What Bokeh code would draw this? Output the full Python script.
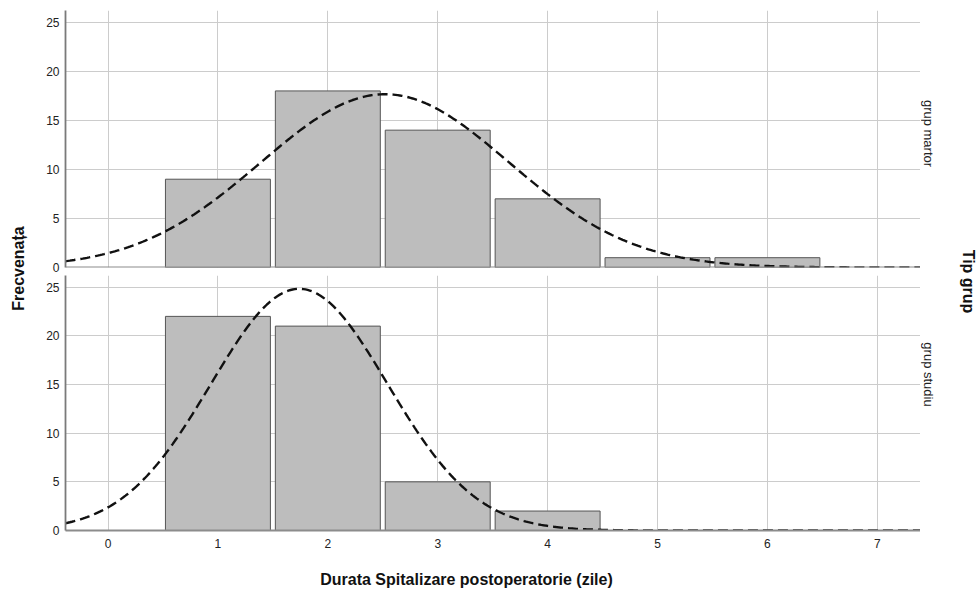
import numpy as np
from bokeh.plotting import figure
from bokeh.layouts import row, column
from bokeh.models import Range1d, FixedTicker, Label, Span
from bokeh.embed import file_html
from bokeh.resources import INLINE

# ---- data ----
martor_days = [1, 2, 3, 4, 5, 6]
martor_counts = [9, 18, 14, 7, 1, 1]
studiu_days = [1, 2, 3, 4]
studiu_counts = [22, 21, 5, 2]
x_ticks = [0, 1, 2, 3, 4, 5, 6, 7]
y_ticks = [0, 5, 10, 15, 20, 25]
group_labels = ["grup martor", "grup studiu"]
x_title = "Durata Spitalizare postoperatorie (zile)"
y_title = "Frecvenața"
facet_title = "Tip grup"

FONT = "Liberation Sans"
X_RANGE = (-0.387, 7.393)
Y_MAX = 26.2
BAR_W = 0.955
MAIN_W = 890
STRIP_W = 20
LEFT_W = 30
RIGHT_W = 36
TOTAL_H = 590


def normal_curve(vals, counts, xs):
    v = np.repeat(np.asarray(vals, dtype=float), counts)
    n = len(v)
    m = v.mean()
    s = v.std(ddof=1)
    return n * np.exp(-0.5 * ((xs - m) / s) ** 2) / (s * np.sqrt(2 * np.pi))


def blank(width, height):
    f = figure(width=width, height=height, output_backend="svg", toolbar_location=None,
               x_range=Range1d(0, 1), y_range=Range1d(0, 1),
               x_axis_location=None, y_axis_location=None, min_border=0)
    f.grid.visible = False
    f.outline_line_color = None
    return f


def text_label(x, y, text, size, bold=False, angle=0.0, color="#111111"):
    return Label(x=x, y=y, x_units="screen", y_units="screen", text=text,
                 angle=angle, text_align="center", text_baseline="middle",
                 text_font=FONT, text_font_size=size,
                 text_font_style="bold" if bold else "normal", text_color=color)


def panel(vals, counts, height, b_top, b_bottom, show_x):
    p = figure(width=MAIN_W, height=height, output_backend="svg", toolbar_location=None,
               x_range=Range1d(*X_RANGE), y_range=Range1d(0, Y_MAX),
               x_axis_location="below" if show_x else None,
               min_border_left=35, min_border_right=0,
               min_border_top=b_top, min_border_bottom=b_bottom)
    p.outline_line_color = None

    p.yaxis.ticker = FixedTicker(ticks=y_ticks)
    p.yaxis.major_tick_out = 0
    p.yaxis.major_tick_in = 0
    p.yaxis.minor_tick_line_color = None
    p.yaxis.axis_line_color = "#7a7a7a"
    p.yaxis.axis_line_width = 1.8
    p.yaxis.major_label_text_font = FONT
    p.yaxis.major_label_text_font_size = "12px"
    p.yaxis.major_label_text_color = "#222222"
    p.yaxis.major_label_standoff = 6

    p.xgrid.ticker = FixedTicker(ticks=x_ticks)
    p.ygrid.ticker = FixedTicker(ticks=y_ticks)
    for g in (p.xgrid, p.ygrid):
        g.grid_line_color = "#cccccc"
        g.grid_line_width = 1

    if show_x:
        p.xaxis.ticker = FixedTicker(ticks=x_ticks)
        p.xaxis.major_tick_out = 0
        p.xaxis.major_tick_in = 0
        p.xaxis.minor_tick_line_color = None
        p.xaxis.axis_line_color = "#8c8c8c"
        p.xaxis.axis_line_width = 1.8
        p.xaxis.major_label_text_font = FONT
        p.xaxis.major_label_text_font_size = "12px"
        p.xaxis.major_label_text_color = "#222222"
        p.xaxis.major_label_standoff = 8
    else:
        p.add_layout(Span(location=0, dimension="width", line_color="#8c8c8c", line_width=1.8))

    p.vbar(x=vals, top=counts, width=BAR_W, bottom=0,
           fill_color="#bdbdbd", line_color="#555555", line_width=1)

    xs = np.linspace(X_RANGE[0], X_RANGE[1], 400)
    p.line(xs, normal_curve(vals, counts, xs), line_color="#111111",
           line_width=2.4, line_dash="10 5")
    return p


# top panel: frame 10..267, canvas 0..275
top = panel(martor_days, martor_counts, 275, 10, 8, False)
# bottom panel: frame 275..530, canvas 275..560
bot = panel(studiu_days, studiu_counts, 285, 0, 30, True)

strip_top = blank(STRIP_W, 275)
strip_top.add_layout(text_label(8, 134, group_labels[0], "13px", angle=-np.pi / 2, color="#222222"))
strip_bot = blank(STRIP_W, 285)
strip_bot.add_layout(text_label(8, 156, group_labels[1], "13px", angle=-np.pi / 2, color="#222222"))

xtitle = blank(MAIN_W + STRIP_W, 30)
xtitle.add_layout(text_label(436, 11, x_title, "16px", bold=True))

left = blank(LEFT_W, TOTAL_H)
left.add_layout(text_label(18, 322, y_title, "16px", bold=True, angle=np.pi / 2))

right = blank(RIGHT_W, TOTAL_H)
right.add_layout(text_label(28, 309, facet_title, "16px", bold=True, angle=-np.pi / 2))

layout = row(left, column(row(top, strip_top), row(bot, strip_bot), xtitle), right)
open("out.html", "w").write(file_html(layout, INLINE))
